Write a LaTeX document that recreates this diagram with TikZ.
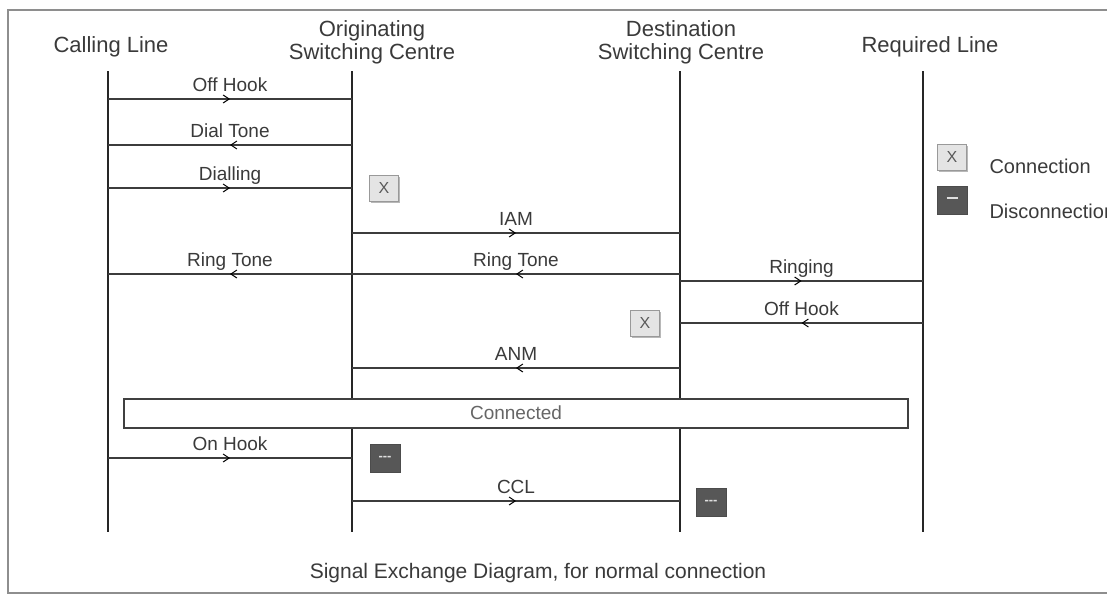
\documentclass[tikz,border=0pt]{standalone}
\usepackage{fontspec}
\setmainfont{Liberation Sans}
\usetikzlibrary{arrows.meta,decorations.markings,shadows}
\definecolor{txt}{HTML}{3A3A3A}
\definecolor{wire}{HTML}{3C3C3C}
\definecolor{frame}{HTML}{8E8E8E}
\definecolor{xfill}{HTML}{E4E4E4}
\definecolor{dfill}{HTML}{575757}

\begin{document}
\begin{tikzpicture}[x=1pt,y=-1pt,>=Latex,
  every node/.style={text=txt,font=\fontsize{19}{22}\selectfont},
  head/.style={align=center,font=\fontsize{22}{23}\selectfont},
  life/.style={line width=2.8pt,black!85},
  msg/.style={wire,line width=1.4pt,postaction={decorate},
    decoration={markings,mark=at position .5 with {\arrow[black,line width=1pt]{Straight Barb[length=6pt,width=8pt]}}}},
  lbl/.style={midway,anchor=base,yshift=8pt,inner sep=0pt},
  xbox/.style={draw=gray!80,fill=xfill,minimum width=29pt,minimum height=26pt,inner sep=0pt,
    drop shadow={shadow xshift=1.5pt,shadow yshift=-1.5pt,fill=gray!70,opacity=.8},font=\fontsize{16}{16}\selectfont,text=gray!70!black},
  dbox/.style={draw=black!70,fill=dfill,minimum width=30pt,minimum height=28pt,inner sep=0pt,
    drop shadow={shadow xshift=1pt,shadow yshift=-1pt,fill=gray!60,opacity=.6},font=\bfseries\fontsize{13}{13}\selectfont,text=gray!25}]
\path[use as bounding box,clip] (0,0) rectangle (1107,597);
\draw[frame,line width=2pt] (8,10) rectangle (1130,593);

% lifelines
\node[head] (hcl) at (111,47) {Calling Line};
\node[head] (hos) at (372,42) {Originating\\Switching Centre};
\node[head] (hds) at (681,42) {Destination\\Switching Centre};
\node[head] (hrl) at (930,47) {Required Line};
\foreach \n/\x in {cl/108,os/352,ds/680,rl/923}{
  \coordinate (\n) at (\x,71); \coordinate (\n b) at (\x,532);
  \draw[life] (\n) -- (\n b);}

% signals
\foreach \f/\t/\y/\l in {cl/os/99/Off Hook,os/cl/145/Dial Tone,cl/os/188/Dialling,os/ds/233/IAM,
  os/cl/274/Ring Tone,ds/os/274/Ring Tone,ds/rl/281/Ringing,rl/ds/323/Off Hook,ds/os/368/ANM,
  cl/os/458/On Hook,os/ds/501/CCL}{
  \coordinate (y) at (0,\y);
  \draw[msg] (\f|-y) -- (\t|-y) node[lbl]{\l};}

\node[xbox] (x1) at (384,188) {X};
\node[xbox] (x2) at (645,323) {X};
\node[dbox] (d1) at (385,458) {-{}-{}-};
\node[dbox] (d2) at (711,502) {-{}-{}-};

\node[draw=black!75,fill=white,line width=2pt,minimum width=784pt,minimum height=29pt,inner sep=0pt,text=gray!80!black] (conn) at (516,413) {Connected};

% legend
\node[xbox] (lx) at (952,157) {X};
\node[anchor=west,font=\fontsize{20}{22}\selectfont] (lxt) at (986,166) {Connection};
\node[dbox] (ld) at (952,200) {\rule[4pt]{11pt}{2.5pt}};
\node[anchor=west,font=\fontsize{20}{22}\selectfont] (ldt) at (986,211) {Disconnection};

\node[font=\fontsize{21}{22}\selectfont] (cap) at (538,573) {Signal Exchange Diagram, for normal connection};
\end{tikzpicture}
\end{document}
